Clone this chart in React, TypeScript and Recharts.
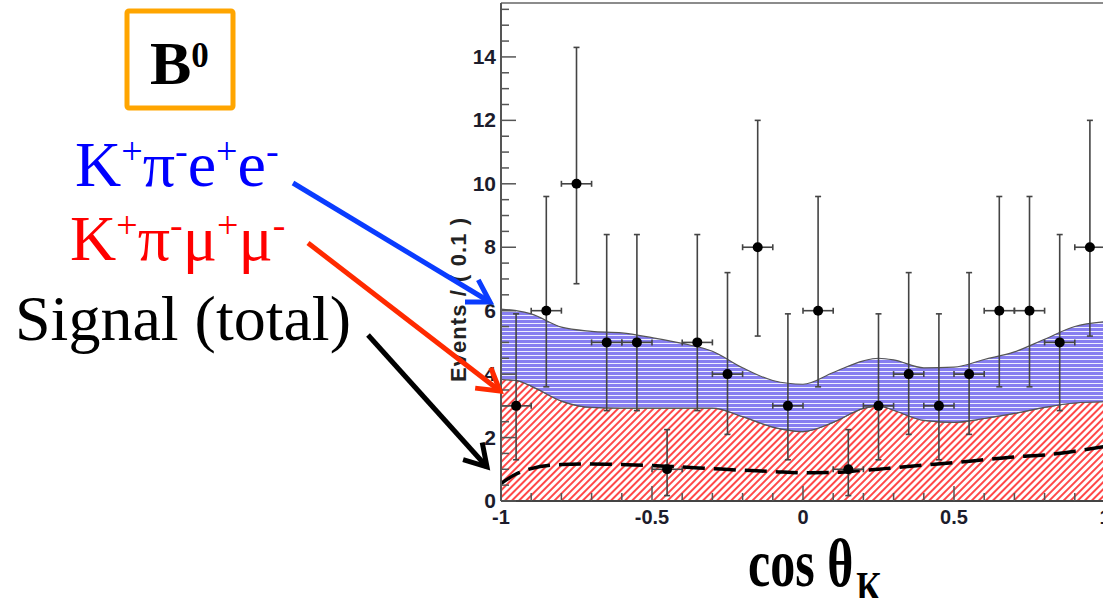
import React from "react";
import { ComposedChart, Area, Line, Scatter, ErrorBar, XAxis, YAxis, ReferenceLine } from "recharts";

// fit curves, sampled along cos(theta_K)
const curveX = [-1, -0.95, -0.9, -0.8, -0.7, -0.6, -0.5, -0.4, -0.3, -0.2, -0.1, 0, 0.1, 0.2, 0.25, 0.3, 0.4, 0.5, 0.6, 0.7, 0.8, 0.9, 1];
const totalFit = [6.05, 6.0, 5.9, 5.48, 5.35, 5.3, 5.15, 4.97, 4.72, 4.2, 3.8, 3.68, 4.05, 4.42, 4.5, 4.45, 4.2, 4.22, 4.46, 4.7, 5.1, 5.5, 5.65];
const muFit = [3.83, 3.8, 3.62, 3.15, 2.95, 2.93, 2.93, 2.93, 2.93, 2.66, 2.33, 2.19, 2.48, 2.92, 3.0, 2.86, 2.54, 2.48, 2.6, 2.76, 2.95, 3.09, 3.13];
const dashedFit = [0.55, 0.85, 1.02, 1.15, 1.17, 1.15, 1.12, 1.07, 1.02, 0.97, 0.93, 0.89, 0.9, 0.97, 1.0, 1.05, 1.13, 1.21, 1.3, 1.39, 1.45, 1.57, 1.72];

// data points (bin width 0.1)
const binCenters = [-0.95, -0.85, -0.75, -0.65, -0.55, -0.45, -0.35, -0.25, -0.15, -0.05, 0.05, 0.15, 0.25, 0.35, 0.45, 0.55, 0.65, 0.75, 0.85, 0.95];
const events = [3, 6, 10, 5, 5, 1, 5, 4, 8, 3, 6, 1, 3, 4, 3, 4, 6, 6, 5, 8];
const errDown = [1.7, 2.4, 3.15, 2.15, 2.15, 0.83, 2.15, 1.9, 2.8, 1.7, 2.4, 0.83, 1.7, 1.9, 1.7, 1.9, 2.4, 2.4, 2.15, 2.8];
const errUp = [2.9, 3.6, 4.3, 3.4, 3.4, 1.25, 3.4, 3.2, 4.0, 2.9, 3.6, 1.25, 2.9, 3.2, 2.9, 3.2, 3.6, 3.6, 3.4, 4.0];
const halfBin = 0.05;

// axis ticks
const yMajor = [0, 2, 4, 6, 8, 10, 12, 14];
const xMajor = [-1, -0.5, 0, 0.5, 1];
const yTicks: number[] = [];
for (let i = 0; i <= 31; i++) yTicks.push(i * 0.5);
const xTicks: number[] = [];
for (let i = -10; i <= 10; i++) xTicks.push(i / 10);
const Y_MAX = 15.7;

const curveData = curveX.map((x, i) => ({ x, total: totalFit[i], mu: muFit[i], sig: dashedFit[i] }));
const pointData = binCenters.map((x, i) => ({ x, y: events[i], ex: halfBin, ey: [errDown[i], errUp[i]] }));

const AXIS_FONT = "'Liberation Sans', Arial, sans-serif";
const SERIF = "'Liberation Serif', 'Times New Roman', serif";

const YTick = (props: any) => {
  const { x, y, payload } = props;
  const v = payload.value;
  const major = yMajor.some((m) => Math.abs(m - v) < 1e-6);
  return (
    <g>
      <line x1={x} x2={x + (major ? 15 : 8)} y1={y} y2={y} stroke="#555" strokeWidth={1.5} />
      {major && (
        <text x={x - 5} y={y + 7} textAnchor="end" fontSize={21} fontWeight="bold" fontFamily={AXIS_FONT} fill="#1c1c2c">
          {v}
        </text>
      )}
    </g>
  );
};

const XTick = (props: any) => {
  const { x, y, payload } = props;
  const v = payload.value;
  const major = xMajor.some((m) => Math.abs(m - v) < 1e-6);
  return (
    <g>
      <line x1={x} x2={x} y1={y} y2={y - (major ? 15 : 8)} stroke="#555" strokeWidth={1.5} />
      {major && (
        <text x={x} y={y + 23} textAnchor="middle" fontSize={20} fontWeight="bold" fontFamily={AXIS_FONT} fill="#1c1c2c">
          {v}
        </text>
      )}
    </g>
  );
};

function Arrow({ from, to, color }: { from: [number, number]; to: [number, number]; color: string }) {
  const [x1, y1] = from;
  const [x2, y2] = to;
  const back = Math.atan2(y1 - y2, x1 - x2);
  const len = 25;
  const spread = (31 * Math.PI) / 180;
  const w1 = [x2 + len * Math.cos(back - spread), y2 + len * Math.sin(back - spread)];
  const w2 = [x2 + len * Math.cos(back + spread), y2 + len * Math.sin(back + spread)];
  return (
    <g stroke={color} strokeWidth={5} fill="none" strokeLinecap="butt" strokeLinejoin="miter">
      <line x1={x1} y1={y1} x2={x2} y2={y2} />
      <polyline points={`${w1[0]},${w1[1]} ${x2},${y2} ${w2[0]},${w2[1]}`} />
    </g>
  );
}

export default function App() {
  return (
    <div style={{ position: "absolute", left: 0, top: 0, width: 1103, height: 598, overflow: "hidden", background: "#fff" }}>
      <ComposedChart
        width={1110}
        height={598}
        data={curveData}
        margin={{ top: 3, right: 5, left: 441, bottom: 67 }}
      >
        <defs>
          <pattern id="muHatch" width="5" height="10" patternUnits="userSpaceOnUse" patternTransform="rotate(45)">
            <rect width="5" height="10" fill="#fff" />
            <line x1="1" y1="0" x2="1" y2="10" stroke="#ff3434" strokeWidth="1.8" />
          </pattern>
          <pattern id="eeStripes" width="10" height="4" patternUnits="userSpaceOnUse">
            <rect width="10" height="4" fill="#eeeeff" />
            <rect width="10" height="3" fill="#877ef0" />
          </pattern>
        </defs>
        <XAxis
          dataKey="x"
          type="number"
          domain={[-1, 1]}
          allowDataOverflow
          ticks={xTicks}
          interval={0}
          tick={<XTick />}
          tickLine={false}
          tickSize={0}
          tickMargin={0}
          height={30}
          axisLine={{ stroke: "#444", strokeWidth: 2 }}
        />
        <YAxis
          type="number"
          domain={[0, Y_MAX]}
          allowDataOverflow
          ticks={yTicks}
          interval={0}
          tick={<YTick />}
          tickLine={false}
          tickSize={0}
          tickMargin={0}
          width={60}
          axisLine={{ stroke: "#555", strokeWidth: 2 }}
        />
        <ReferenceLine y={Y_MAX} stroke="#8c8c8c" strokeWidth={2} />
        <Area
          type="monotone"
          dataKey="mu"
          fill="url(#muHatch)"
          fillOpacity={1}
          stroke="#555"
          strokeWidth={1.2}
          isAnimationActive={false}
        />
        <Area
          type="monotone"
          dataKey={(d: any) => [d.mu, d.total]}
          fill="url(#eeStripes)"
          fillOpacity={1}
          stroke="#555"
          strokeWidth={1.2}
          isAnimationActive={false}
        />
        <Line
          type="monotone"
          dataKey="sig"
          stroke="#000"
          strokeWidth={3.5}
          strokeDasharray="22 9"
          dot={false}
          isAnimationActive={false}
        />
        <Scatter
          data={pointData}
          dataKey="y"
          isAnimationActive={false}
          shape={(p: any) => <circle cx={p.cx} cy={p.cy} r={5} fill="#000" />}
        >
          <ErrorBar dataKey="ey" direction="y" width={3} stroke="#444" strokeWidth={1.6} />
          <ErrorBar dataKey="ex" direction="x" width={3} stroke="#444" strokeWidth={1.6} />
        </Scatter>
      </ComposedChart>

      <svg width={1103} height={598} style={{ position: "absolute", left: 0, top: 0, pointerEvents: "none" }}>
        <text
          transform="translate(466,300) rotate(-90)"
          textAnchor="middle"
          fontSize={22}
          fontWeight="bold"
          fontFamily={AXIS_FONT}
          fill="#222"
          textLength={164}
          lengthAdjust="spacing"
        >
          Events / ( 0.1 )
        </text>

        <rect x={127} y={11} width={106} height={97} rx={2} fill="none" stroke="#ffa500" strokeWidth={5} />
        <text x={150} y={84} fontSize={62} fontWeight="bold" fontFamily={SERIF} fill="#000">
          B<tspan fontSize={35} dy={-17}>0</tspan>
        </text>

        <text x={75} y={186} fontSize={64} fontFamily={SERIF} fill="#0000ff">
          K<tspan fontSize={38} dy={-22}>+</tspan>
          <tspan dy={22}>π</tspan>
          <tspan fontSize={38} dy={-22}>-</tspan>
          <tspan dy={22}>e</tspan>
          <tspan fontSize={38} dy={-22}>+</tspan>
          <tspan dy={22}>e</tspan>
          <tspan fontSize={38} dy={-22}>-</tspan>
        </text>
        <text x={70} y={260} fontSize={64} fontFamily={SERIF} fill="#ff0000">
          K<tspan fontSize={38} dy={-22}>+</tspan>
          <tspan dy={22}>π</tspan>
          <tspan fontSize={38} dy={-22}>-</tspan>
          <tspan dy={22}>μ</tspan>
          <tspan fontSize={38} dy={-22}>+</tspan>
          <tspan dy={22}>μ</tspan>
          <tspan fontSize={38} dy={-22}>-</tspan>
        </text>
        <text x={15} y={340} fontSize={64} fontFamily={SERIF} fill="#000">
          Signal (total)
        </text>

        <Arrow from={[293, 183]} to={[490, 302]} color="#0a3cff" />
        <Arrow from={[308, 243]} to={[500, 391]} color="#ff2a00" />
        <Arrow from={[368, 335]} to={[487, 467]} color="#000" />

        <text transform="translate(748,586) scale(1,1.36)" fontSize={50} fontWeight="bold" fontFamily={SERIF} fill="#000">
          cos θ<tspan fontSize={33} dx={3} dy={12}>K</tspan>
        </text>
      </svg>
    </div>
  );
}
